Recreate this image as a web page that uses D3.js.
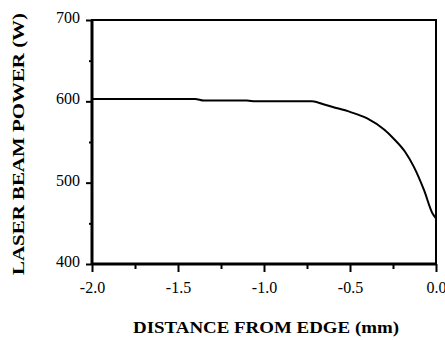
<!DOCTYPE html>
<html>
<head>
<meta charset="utf-8">
<script src="https://cdn.jsdelivr.net/npm/d3@7"></script>
<style>
  body { margin: 0; background: #fff; }
  svg { display: block; }
  .tick text { font-family: "Liberation Serif", "Times New Roman", serif; font-size: 16px; fill: #000; }
  .title { font-family: "Liberation Serif", "Times New Roman", serif; font-weight: bold; font-size: 16px; fill: #000; }
</style>
</head>
<body>
<div id="chart"></div>
<script>
// distance from edge (mm) and laser power (W)
const distance = [-2.0, -1.8, -1.6, -1.4, -1.35, -1.1, -1.05, -1.0, -0.85, -0.72, -0.65, -0.6, -0.5, -0.4, -0.3, -0.25, -0.18, -0.13, -0.07, -0.02, 0.0];
const power    = [603, 603, 603, 603, 601, 601, 600, 600, 600, 600, 596, 593, 587, 579, 565, 555, 538, 520, 491, 462, 456];

const xTicks = [-2.0, -1.5, -1.0, -0.5, 0.0];
const xMinor = [-1.75, -1.25, -0.75, -0.25];
const yTicks = [400, 500, 600, 700];
const yMinor = [450, 550, 650];

const xTitle = 'DISTANCE FROM EDGE (mm)';
const yTitle = 'LASER BEAM POWER (W)';

const width = 445;
const height = 340;
const margin = {top: 20, right: 9, bottom: 76, left: 92};

const svg = d3.select('#chart').append('svg')
  .attr('width', width)
  .attr('height', height);

const x = d3.scaleLinear()
  .domain([-2, 0])
  .range([margin.left, width - margin.right]);

const y = d3.scaleLinear()
  .domain([400, 700])
  .range([height - margin.bottom, margin.top]);

// plain hyphen instead of the unicode minus
const fmt = d => d3.format('.1f')(d).replace('\u2212', '-');

// frame
svg.append('rect')
  .attr('x', x(-2))
  .attr('y', y(700))
  .attr('width', x(0) - x(-2))
  .attr('height', y(400) - y(700))
  .attr('fill', 'none')
  .attr('stroke', '#000')
  .attr('stroke-width', 2);

// minor ticks
svg.append('g')
  .attr('transform', `translate(0,${y(400)})`)
  .call(d3.axisBottom(x).tickValues(xMinor).tickSize(5).tickFormat(''))
  .call(g => g.select('.domain').remove())
  .call(g => g.selectAll('line').attr('stroke-width', 2));

svg.append('g')
  .attr('transform', `translate(${x(-2)},0)`)
  .call(d3.axisLeft(y).tickValues(yMinor).tickSize(3).tickFormat(''))
  .call(g => g.select('.domain').remove())
  .call(g => g.selectAll('line').attr('stroke-width', 2));

// major ticks + labels
const xAxis = svg.append('g')
  .attr('transform', `translate(0,${y(400)})`)
  .call(d3.axisBottom(x).tickValues(xTicks).tickSize(8).tickPadding(10).tickFormat(fmt));
xAxis.select('.domain').remove();
xAxis.selectAll('line').attr('stroke-width', 2);
xAxis.selectAll('text').attr('dy', '0.71em');

const yAxis = svg.append('g')
  .attr('transform', `translate(${x(-2)},0)`)
  .call(d3.axisLeft(y).tickValues(yTicks).tickSize(6).tickPadding(6));
yAxis.select('.domain').remove();
yAxis.selectAll('line').attr('stroke-width', 2);
yAxis.selectAll('text').attr('dy', '0.15em');

// thicker left and bottom axis lines
svg.append('line')
  .attr('x1', x(-2)).attr('x2', x(-2))
  .attr('y1', y(700)).attr('y2', y(400))
  .attr('stroke', '#000').attr('stroke-width', 3);
svg.append('line')
  .attr('x1', x(-2)).attr('x2', x(0))
  .attr('y1', y(400)).attr('y2', y(400))
  .attr('stroke', '#000').attr('stroke-width', 3);

// the curve
const line = d3.line()
  .x((d, i) => x(distance[i]))
  .y(d => y(d))
  .curve(d3.curveMonotoneX);

svg.append('path')
  .datum(power)
  .attr('d', line)
  .attr('fill', 'none')
  .attr('stroke', '#000')
  .attr('stroke-width', 2);

// axis titles
svg.append('text')
  .attr('class', 'title')
  .attr('x', (x(-2) + x(0)) / 2 + 2)
  .attr('y', 333)
  .attr('text-anchor', 'middle')
  .attr('textLength', 266)
  .attr('lengthAdjust', 'spacingAndGlyphs')
  .text(xTitle);

svg.append('text')
  .attr('class', 'title')
  .attr('transform', `translate(24,${(y(400) + y(700)) / 2 + 2}) rotate(-90)`)
  .attr('text-anchor', 'middle')
  .attr('textLength', 262)
  .attr('lengthAdjust', 'spacingAndGlyphs')
  .text(yTitle);
</script>
</body>
</html>
